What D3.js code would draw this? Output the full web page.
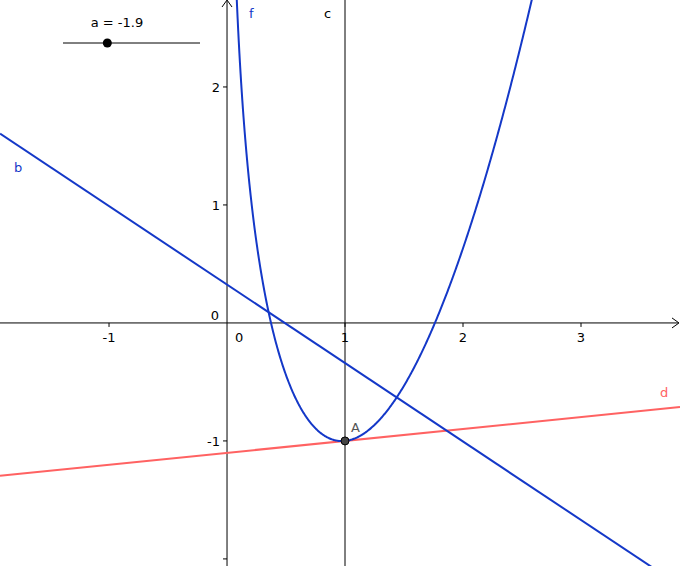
<!DOCTYPE html>
<html>
<head>
<meta charset="utf-8">
<style type="text/css">
  body { margin: 0; background: #fff; }
  text { font-family: "DejaVu Sans", sans-serif; font-size: 13px; }
</style>
</head>
<body>
<svg id="chart" width="680" height="566"></svg>
<script src="https://cdn.jsdelivr.net/npm/d3@7"></script>
<script>
var xDomain = [-1.924, 3.839];
var yDomain = [-2.06, 2.737];
var xTicks = [-1, 1, 2, 3];
var yTicks = [-2, -1, 1, 2];
var sliderValue = -1.9;
var sliderRange = [-3, 0.4];
var pointA = [1, -1];
// line b: y = bIntercept + bSlope*x, line d through A with slope dSlope, c: x = cX
var bIntercept = 0.325, bSlope = -0.665;
var dSlope = 0.101;
var cX = 1;
// f(x) = fAlpha*(x-1)^2 + dSlope*(x-1) - 1 + fDelta*(x-1-ln x)
var fAlpha = 0.94, fDelta = 1.93;

var blue = "#1438c8", red = "#ff6262";
var svg = d3.select("#chart");
var x = d3.scaleLinear().domain(xDomain).range([0, 680]);
var y = d3.scaleLinear().domain(yDomain).range([566, 0]);

function f(t) { return fAlpha*(t-1)*(t-1) + dSlope*(t-1) - 1 + fDelta*(t-1-Math.log(t)); }

// axes
svg.append("line").attr("x1", 0).attr("x2", 678).attr("y1", y(0)).attr("y2", y(0)).attr("stroke", "#000");
svg.append("path").attr("d", "M672," + (y(0)-5) + "L679," + y(0) + "L672," + (y(0)+5)).attr("fill", "none").attr("stroke", "#000");
svg.append("line").attr("x1", x(0)).attr("x2", x(0)).attr("y1", 1).attr("y2", 566).attr("stroke", "#000");
svg.append("path").attr("d", "M" + (x(0)-5) + ",7L" + x(0) + ",0L" + (x(0)+5) + ",7").attr("fill", "none").attr("stroke", "#000");

svg.selectAll(".xt").data(xTicks).enter().append("line")
  .attr("x1", d => x(d)).attr("x2", d => x(d)).attr("y1", y(0)).attr("y2", y(0)+4).attr("stroke", "#000");
svg.selectAll(".xl").data(xTicks).enter().append("text")
  .attr("x", d => x(d)).attr("y", y(0)+19).attr("text-anchor", "middle").text(d => d);
svg.selectAll(".yt").data(yTicks).enter().append("line")
  .attr("x1", x(0)-4).attr("x2", x(0)).attr("y1", d => y(d)).attr("y2", d => y(d)).attr("stroke", "#000");
svg.selectAll(".yl").data(yTicks.filter(d => d > -2)).enter().append("text")
  .attr("x", x(0)-7).attr("y", d => y(d)+5).attr("text-anchor", "end").text(d => d);
svg.append("text").attr("x", x(0)-8).attr("y", y(0)-3).attr("text-anchor", "end").text("0");
svg.append("text").attr("x", x(0)+12).attr("y", y(0)+19).attr("text-anchor", "middle").text("0");

// line c
svg.append("line").attr("x1", x(cX)).attr("x2", x(cX)).attr("y1", 0).attr("y2", 566).attr("stroke", "#000");
svg.append("text").attr("x", x(cX)-21).attr("y", 18).text("c");

// line d
svg.append("line").attr("x1", x(xDomain[0])).attr("x2", x(xDomain[1]))
  .attr("y1", y(pointA[1] + dSlope*(xDomain[0]-pointA[0])))
  .attr("y2", y(pointA[1] + dSlope*(xDomain[1]-pointA[0])))
  .attr("stroke", red).attr("stroke-width", 2);
svg.append("text").attr("x", 660).attr("y", 397).attr("fill", red).text("d");

// line b
svg.append("line").attr("x1", x(xDomain[0])).attr("x2", x(xDomain[1]))
  .attr("y1", y(bIntercept + bSlope*xDomain[0])).attr("y2", y(bIntercept + bSlope*xDomain[1]))
  .attr("stroke", blue).attr("stroke-width", 2);
svg.append("text").attr("x", 14).attr("y", 172).attr("fill", blue).text("b");

// f
var fx = d3.range(0.05, 2.8, 0.005).filter(t => f(t) < yDomain[1] + 0.2);
svg.append("path").datum(fx)
  .attr("d", d3.line().x(t => x(t)).y(t => y(f(t))))
  .attr("fill", "none").attr("stroke", blue).attr("stroke-width", 2);
svg.append("text").attr("x", 249).attr("y", 18).attr("fill", blue).text("f");

// point A
svg.append("circle").attr("cx", x(pointA[0])).attr("cy", y(pointA[1])).attr("r", 4)
  .attr("fill", "#444").attr("stroke", "#000");
svg.append("text").attr("x", 351).attr("y", 432).attr("fill", "#555").text("A");

// slider
var s = d3.scaleLinear().domain(sliderRange).range([63, 200]);
svg.append("line").attr("x1", 63).attr("x2", 200).attr("y1", 43).attr("y2", 43).attr("stroke", "#000");
svg.append("circle").attr("cx", s(sliderValue)).attr("cy", 43).attr("r", 4.5).attr("fill", "#000");
svg.append("text").attr("x", 117).attr("y", 27).attr("text-anchor", "middle").text("a = " + sliderValue);
</script>
</body>
</html>
